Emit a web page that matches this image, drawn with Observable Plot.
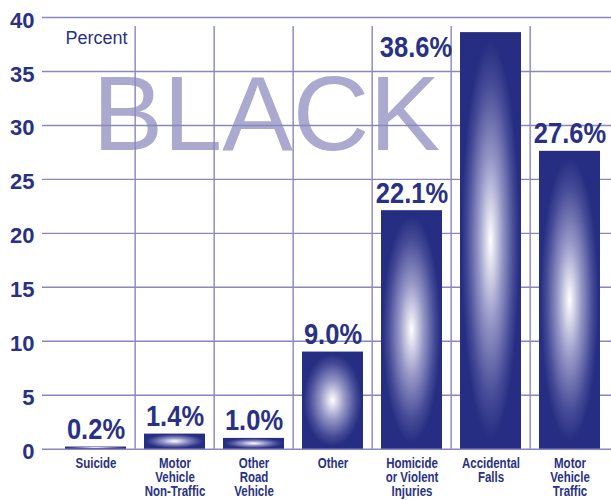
<!DOCTYPE html>
<html>
<head>
<meta charset="utf-8">
<script src="https://cdn.jsdelivr.net/npm/d3@7"></script>
<script src="https://cdn.jsdelivr.net/npm/@observablehq/plot@0.6"></script>
<style>
  html, body { margin: 0; padding: 0; background: #fff; }
  #chart svg { display: block; }
</style>
</head>
<body>
<div id="chart"></div>
<script>
const categories = [
  "Suicide",
  "Motor\nVehicle\nNon-Traffic",
  "Other\nRoad\nVehicle",
  "Other",
  "Homicide\nor Violent\nInjuries",
  "Accidental\nFalls",
  "Motor\nVehicle\nTraffic"
];
const percents = [0.2, 1.4, 1.0, 9.0, 22.1, 38.6, 27.6];
const yTicks = [0, 5, 10, 15, 20, 25, 30, 35, 40];
const titleText = "BLACK";
const unitText = "Percent";

const navy = "#283185";
const barNavy = "#252e82";
const gridColor = "#8a87bf";
const sans = "'Liberation Sans', Arial, sans-serif";

const data = categories.map((c, i) => ({category: c, value: percents[i], label: percents[i].toFixed(1) + "%", prev: categories[Math.max(0, i - 1)]}));
const tallCut = 36;
const normal = data.filter(d => d.value < tallCut);
const tall = data.filter(d => d.value >= tallCut);

const W = 611, H = 500;
const xStart = 53.3;
const step = (W - xStart) / categories.length;

const chart = Plot.plot({
  width: W,
  height: H,
  marginLeft: 42,
  marginRight: 0,
  marginTop: 17,
  marginBottom: 51.3,
  style: {fontFamily: sans, background: "#fff"},
  x: {domain: categories, range: [xStart, W], paddingInner: 0.234, paddingOuter: 0.117, axis: null},
  y: {domain: [0, 40], axis: null},
  marks: [
    Plot.text([titleText], {frameAnchor: "top-left", text: d => d, dx: 50, dy: 132, lineAnchor: "bottom", textAnchor: "start", fontSize: 106, fill: "#aba9cf", fontFamily: sans}),
    Plot.text([unitText], {frameAnchor: "top-left", text: d => d, dx: 23, dy: 14, lineAnchor: "top", textAnchor: "start", fontSize: 18, fill: navy}),
    Plot.ruleY(yTicks, {stroke: gridColor, strokeWidth: 1.4}),
    Plot.ruleX(categories.slice(1), {dx: -step / 2, y1: 0, y2: 40, insetBottom: -9, stroke: gridColor, strokeWidth: 1.4}),
    Plot.barY(data, {x: "category", y: "value", fill: barNavy}),
    Plot.text(normal, {x: "category", y: "value", text: "label", lineAnchor: "bottom", dy: -8, fontSize: 30, fontWeight: "bold", fill: navy, fontFamily: sans}),
    Plot.text(tall, {x: "prev", frameAnchor: "top", text: "label", lineAnchor: "top", dy: 18, dx: 4, fontSize: 30, fontWeight: "bold", fill: navy, fontFamily: sans}),
    Plot.axisY(yTicks, {tickSize: 0, tickPadding: 8, fontSize: 22, fontWeight: "bold", fill: navy, label: null, dy: 3}),
    Plot.axisX({tickSize: 0, tickPadding: 9, fontSize: 14, fontWeight: "bold", fill: navy, fontFamily: sans, lineHeight: 1.0, lineAnchor: "top", label: null})
  ]
});

const svg = d3.select(chart);
const defs = svg.insert("defs", ":first-child");
const grad = defs.append("radialGradient")
  .attr("id", "barGrad")
  .attr("gradientUnits", "objectBoundingBox")
  .attr("cx", 0.5).attr("cy", 0.5).attr("r", 0.5);
grad.append("stop").attr("offset", "0").attr("stop-color", "#ffffff");
grad.append("stop").attr("offset", "0.4").attr("stop-color", "#9596c6");
grad.append("stop").attr("offset", "0.75").attr("stop-color", "#474c97");
grad.append("stop").attr("offset", "0.95").attr("stop-color", barNavy);
grad.append("stop").attr("offset", "1").attr("stop-color", barNavy);
svg.selectAll("g[aria-label='bar']").attr("fill", "url(#barGrad)");
svg.selectAll("g[aria-label='bar'] rect").attr("fill", "url(#barGrad)");

document.getElementById("chart").appendChild(chart);

// condense bold labels horizontally (Helvetica Condensed look)
function condense(el, k) {
  const len = el.getComputedTextLength();
  if (len > 0) {
    el.setAttribute("textLength", (len * k).toFixed(2));
    el.setAttribute("lengthAdjust", "spacingAndGlyphs");
  }
}
svg.selectAll("text").each(function() {
  const t = this.textContent;
  if (/%$/.test(t)) condense(this, 0.85);
});
svg.selectAll("g[aria-label='x-axis tick label'] text").each(function() {
  const spans = this.querySelectorAll("tspan");
  if (spans.length) spans.forEach(s => condense(s, 0.82));
  else condense(this, 0.82);
});
</script>
</body>
</html>
